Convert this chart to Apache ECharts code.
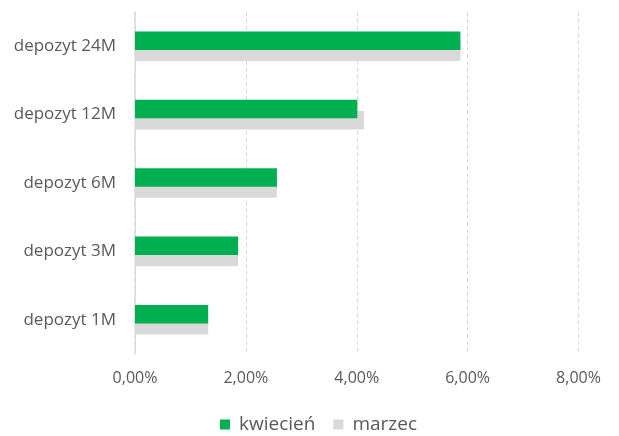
<!DOCTYPE html>
<html><head><meta charset="utf-8">
<script src="https://cdn.jsdelivr.net/npm/echarts@6/dist/echarts.min.js"></script>
<style>html,body{margin:0;padding:0;background:#fff}#c{width:619px;height:436px}</style>
</head><body><div id="c"></div>
<script>
const categories = ['depozyt 1M', 'depozyt 3M', 'depozyt 6M', 'depozyt 12M', 'depozyt 24M'];
const kwiecien = [1.32, 1.86, 2.56, 4.01, 5.87];
const marzec = [1.32, 1.86, 2.56, 4.13, 5.87];
const xTicks = [0, 2, 4, 6, 8];
const font = 'Open Sans';
const chart = echarts.init(document.getElementById('c'));
chart.setOption({
  animation: false,
  textStyle: { fontFamily: font },
  grid: { left: 135, right: 40.5, top: 12, bottom: 82, containLabel: false },
  legend: {
    top: 410, left: 215, itemWidth: 10, itemHeight: 10, itemGap: 18,
    icon: 'rect',
    textStyle: { fontSize: 19, color: '#595959', fontFamily: font, padding: [0, 0, 0, 4] },
    data: ['kwiecień', 'marzec']
  },
  xAxis: {
    type: 'value', min: xTicks[0], max: xTicks[xTicks.length - 1], interval: 2,
    axisLine: { show: false }, axisTick: { show: false },
    axisLabel: { color: '#595959', fontSize: 16, margin: 16, formatter: v => v.toFixed(2).replace('.', ',') + '%' },
    splitLine: { show: true, lineStyle: { color: '#d9d9d9', type: [4, 3], width: 1 } }
  },
  yAxis: {
    type: 'category', data: categories,
    axisLine: { show: true, lineStyle: { color: '#d9d9d9', width: 1.5 } },
    axisTick: { show: false },
    axisLabel: { color: '#595959', fontSize: 17, margin: 19 }
  },
  series: [
    { name: 'kwiecień', type: 'bar', data: kwiecien, barWidth: 18.5, barGap: '-40%', z: 3,
      itemStyle: { color: '#00B050' } },
    { name: 'marzec', type: 'bar', data: marzec, barWidth: 18.5, z: 2,
      itemStyle: { color: '#D9D9D9' } }
  ]
});
</script></body></html>
